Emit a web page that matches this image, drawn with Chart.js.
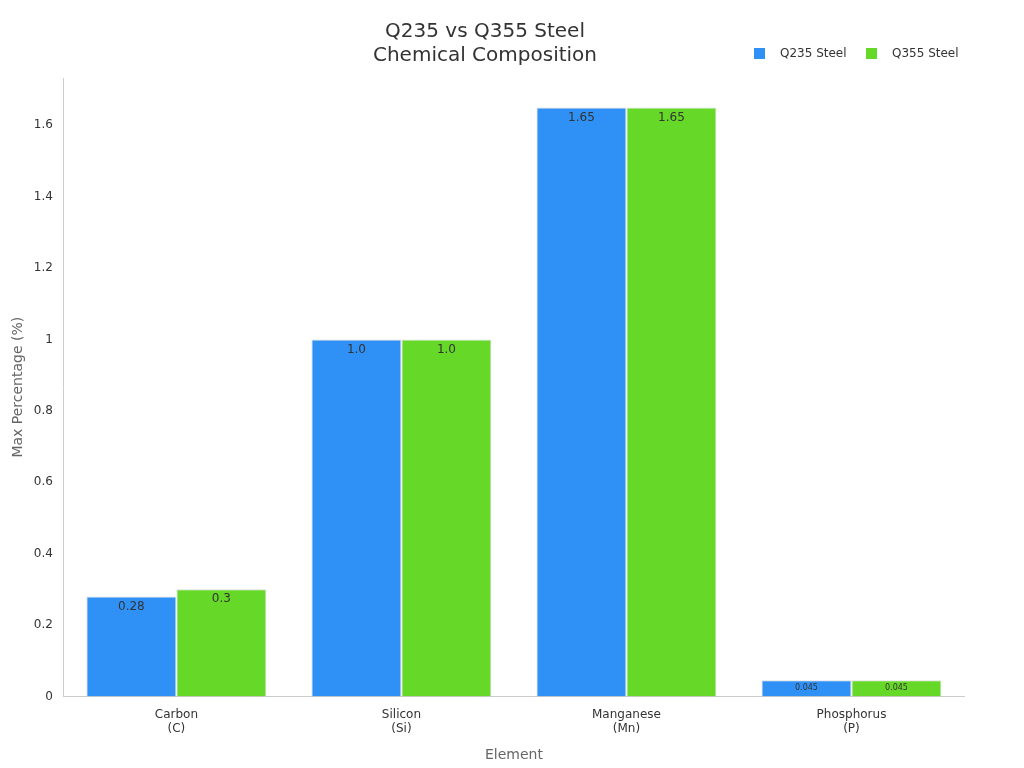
<!DOCTYPE html>
<html>
<head>
<meta charset="utf-8">
<script src="https://cdn.jsdelivr.net/npm/chart.js@4"></script>
<style>
  body { margin: 0; background: #fff; }
  #wrap { width: 1024px; height: 768px; }
</style>
</head>
<body>
<div id="wrap"><canvas id="chart"></canvas></div>
<script>
// chart data
const elements = [['Carbon', '(C)'], ['Silicon', '(Si)'], ['Manganese', '(Mn)'], ['Phosphorus', '(P)']];
const q235 = [0.28, 1.0, 1.65, 0.045];
const q355 = [0.3, 1.0, 1.65, 0.045];
const q235Labels = ['0.28', '1.0', '1.65', '0.045'];
const q355Labels = ['0.3', '1.0', '1.65', '0.045'];
const seriesNames = ['Q235 Steel', 'Q355 Steel'];
const seriesColors = ['#2f91f5', '#66d928'];

// draws the value text just inside the top of each bar
const barLabels = {
    id: 'barLabels',
    afterDatasetsDraw(chart) {
        const ctx = chart.ctx;
        const texts = [q235Labels, q355Labels];
        chart.data.datasets.forEach((ds, i) => {
            chart.getDatasetMeta(i).data.forEach((bar, j) => {
                const small = ds.data[j] < 0.1;
                ctx.save();
                ctx.fillStyle = '#333';
                ctx.font = (small ? '8px' : '12px') + ' "DejaVu Sans"';
                ctx.textAlign = 'center';
                ctx.textBaseline = 'top';
                ctx.fillText(texts[i][j], bar.x, bar.y + 4);
                ctx.restore();
            });
        });
    }
};

// legend next to the title, top right
const topLegend = {
    id: 'topLegend',
    afterDraw(chart) {
        const ctx = chart.ctx;
        const xs = [754, 866];
        ctx.save();
        ctx.font = '12px "DejaVu Sans"';
        ctx.textBaseline = 'middle';
        seriesNames.forEach((name, i) => {
            ctx.fillStyle = seriesColors[i];
            ctx.fillRect(xs[i], 48, 11, 11);
            ctx.fillStyle = '#333';
            ctx.fillText(name, xs[i] + 26, 54);
        });
        ctx.restore();
    }
};

Chart.defaults.font.family = '"DejaVu Sans", sans-serif';
Chart.defaults.color = '#333';

new Chart(document.getElementById('chart'), {
    type: 'bar',
    data: {
        labels: elements,
        datasets: [
            { label: seriesNames[0], data: q235, backgroundColor: seriesColors[0], borderColor: '#ddd', borderWidth: 1 },
            { label: seriesNames[1], data: q355, backgroundColor: seriesColors[1], borderColor: '#ddd', borderWidth: 1 }
        ]
    },
    options: {
        responsive: true,
        maintainAspectRatio: false,
        animation: false,
        categoryPercentage: 0.8,
        barPercentage: 1.0,
        layout: { padding: { left: 6, right: 60, top: 0, bottom: 0 } },
        plugins: {
            title: {
                display: true,
                text: ['Q235 vs Q355 Steel', 'Chemical Composition'],
                font: { size: 20, weight: 'normal' },
                color: '#333',
                padding: { top: 20, bottom: 10 }
            },
            legend: { display: false },
            tooltip: { enabled: false }
        },
        scales: {
            x: {
                grid: { display: false },
                border: { color: '#ccc' },
                ticks: { font: { size: 12 }, color: '#333' },
                title: { display: true, text: 'Element', font: { size: 14 }, color: '#666', padding: { top: 8 } }
            },
            y: {
                min: 0,
                max: 1.7325,
                grid: { display: false },
                border: { color: '#ccc' },
                ticks: {
                    stepSize: 0.2,
                    font: { size: 12 },
                    color: '#333',
                    callback: v => {
                        if (v > 1.65) return null;
                        return Math.abs(v - Math.round(v)) < 1e-9 ? String(Math.round(v)) : (Math.round(v * 10) / 10).toString();
                    }
                },
                title: { display: true, text: 'Max Percentage (%)', font: { size: 14 }, color: '#666' }
            }
        }
    },
    plugins: [barLabels, topLegend]
});
</script>
</body>
</html>
